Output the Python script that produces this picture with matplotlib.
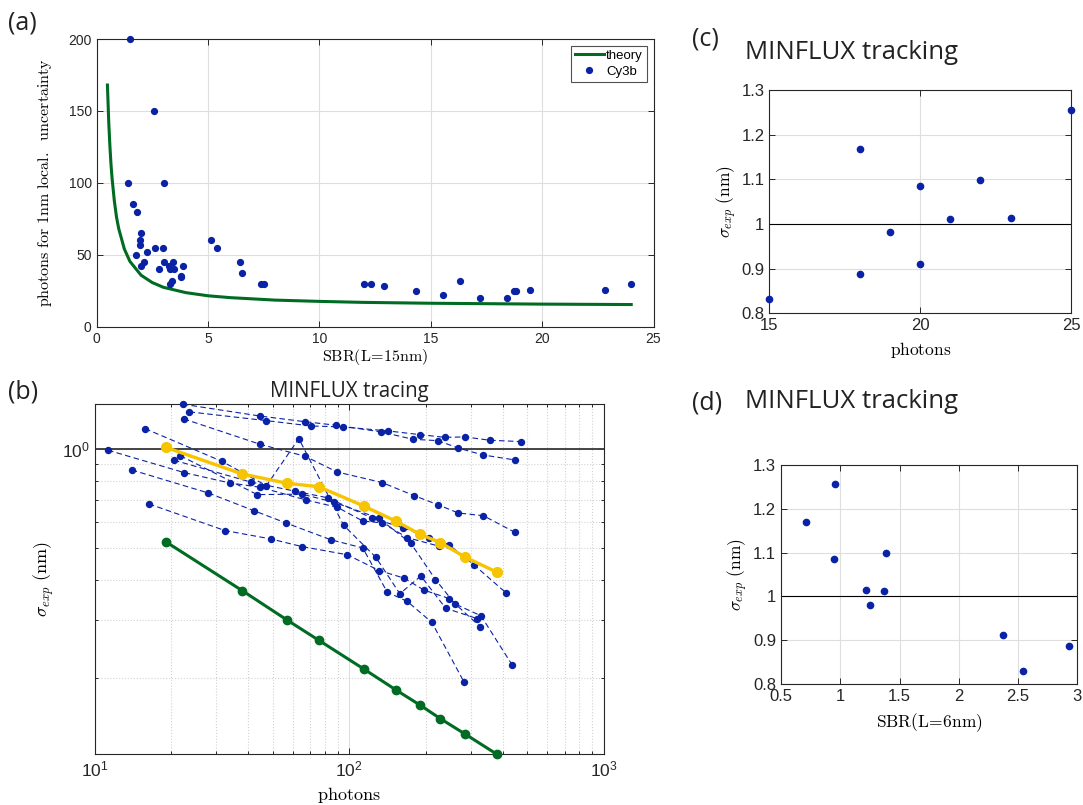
import matplotlib
matplotlib.use("Agg")
import matplotlib.pyplot as plt
from matplotlib.ticker import NullFormatter, FixedLocator

plt.rcParams['mathtext.fontset'] = 'cm'
plt.rcParams['font.family'] = ['Liberation Sans', 'DejaVu Sans']

# ---------------- data: panel (a) ----------------
theory_sbr = [0.49, 0.55, 0.6, 0.65, 0.7, 0.8, 0.9, 1.0, 1.25, 1.5, 2.0, 2.5, 3.0, 4.0,
              5.0, 6.0, 8.0, 10.0, 12.0, 15.0, 20.0, 24.0]
theory_photons = [168, 142, 126, 113, 103, 87.5, 76, 68, 54, 45.4, 35.8, 30.7, 27.4, 23.7,
                  21.5, 20.2, 18.5, 17.6, 16.9, 16.3, 15.7, 15.4]
cy3b_sbr = [1.52, 2.57, 1.40, 3.04, 1.66, 1.81, 2.00, 1.94, 1.97, 2.63, 2.99, 2.27, 1.79,
            2.12, 3.01, 3.43, 2.01, 2.82, 3.25, 3.31, 3.49, 3.88, 3.81, 3.81, 3.37, 3.28,
            5.16, 5.42, 6.43, 6.52, 7.40, 7.51, 12.0, 12.34, 12.91, 14.36, 15.57, 16.33,
            17.2, 18.44, 18.73, 18.85, 19.46, 22.84, 23.98]
cy3b_photons = [200, 150, 100, 100, 85, 80, 65, 60, 57, 55, 55, 52, 50,
                45, 45, 45, 42, 40, 42, 40, 40, 42, 35.5, 34.5, 32, 30,
                60, 55, 45, 37, 30, 30, 30, 30, 28, 24.8, 21.8, 32,
                19.7, 19.7, 24.8, 24.8, 25.7, 25.7, 30]

# ---------------- data: panel (b) ----------------
trace1_photons = [22.2, 44.6, 66.8, 88.9, 133.4, 178, 223, 267, 334, 446]
trace1_sigma = [1.369, 1.26, 1.211, 1.181, 1.127, 1.07, 1.06, 1.007, 0.959, 0.926]
trace2_photons = [23.6, 47.2, 70.7, 94.5, 141.6, 189, 237, 285, 356, 473]
trace2_sigma = [1.297, 1.22, 1.175, 1.167, 1.135, 1.106, 1.085, 1.088, 1.063, 1.053]
trace3_photons = [22.4, 44.7, 67.1, 89.5, 134.5, 179.5, 224, 268, 336, 447]
trace3_sigma = [1.235, 1.033, 0.950, 0.851, 0.790, 0.721, 0.675, 0.638, 0.626, 0.557]
trace4_photons = [15.8, 31.6, 47.3, 63.4, 95.1, 127, 158, 191, 239, 318]
trace4_sigma = [1.153, 0.917, 0.773, 1.075, 0.585, 0.468, 0.362, 0.410, 0.327, 0.304]
trace5_photons = [11.3, 22.5, 33.9, 44.8, 67.6, 89.8, 113, 135, 168.6, 226]
trace5_sigma = [0.991, 0.847, 0.788, 0.764, 0.699, 0.664, 0.603, 0.595, 0.537, 0.505]
trace6_photons = [14.0, 28.0, 42.1, 56.4, 84.5, 113, 141, 169, 211, 282]
trace6_sigma = [0.863, 0.734, 0.649, 0.595, 0.529, 0.499, 0.366, 0.343, 0.296, 0.195]
trace7_photons = [16.35, 32.5, 49.1, 65.2, 98.2, 131, 164, 197, 247, 327]
trace7_sigma = [0.680, 0.564, 0.532, 0.504, 0.476, 0.426, 0.404, 0.371, 0.350, 0.287]
trace8_photons = [21.7, 43.5, 65.3, 87.1, 130.5, 174.4, 218, 260, 329, 437]
trace8_sigma = [0.954, 0.726, 0.728, 0.688, 0.615, 0.516, 0.400, 0.337, 0.310, 0.219]
trace9_photons = [20.5, 41.0, 61.5, 82.2, 123, 163, 205, 246.5, 308, 413]
trace9_sigma = [0.924, 0.793, 0.743, 0.710, 0.615, 0.575, 0.537, 0.510, 0.444, 0.364]

mean_photons = [19, 38, 57, 76, 114, 152, 190, 228, 285, 380]
mean_sigma = [1.012, 0.839, 0.786, 0.767, 0.670, 0.603, 0.549, 0.518, 0.468, 0.421]
theory_b_photons = [19, 38, 57, 76, 114, 152, 190, 228, 285, 380]
theory_b_sigma = [0.522, 0.370, 0.301, 0.261, 0.2135, 0.1846, 0.1655, 0.1506, 0.1352, 0.1173]

# ---------------- data: panels (c), (d) ----------------
track_photons = [15, 18, 18, 19, 20, 20, 21, 22, 23, 25]
track_sigma_c = [0.831, 1.169, 0.887, 0.981, 1.084, 0.911, 1.012, 1.099, 1.013, 1.255]
track_sbr = [0.714, 0.953, 0.944, 1.214, 1.254, 1.372, 1.383, 2.370, 2.539, 2.927]
track_sigma_d = [1.171, 1.256, 1.085, 1.014, 0.981, 1.013, 1.100, 0.911, 0.830, 0.887]

BLUE = '#0a22a6'
GREEN = '#006b22'
YELLOW = '#f6c400'
SPINE = '#262626'
GRID = '#dedede'

W, H = 1083, 805
fig = plt.figure(figsize=(W / 100, H / 100), dpi=100)


def box(x0, x1, y0, y1):
    return [x0 / W, 1 - y1 / H, (x1 - x0) / W, (y1 - y0) / H]


def style(ax, fs):
    for s in ax.spines.values():
        s.set_color(SPINE)
        s.set_linewidth(0.8)
    ax.tick_params(which='both', direction='in', top=True, right=True,
                   colors=SPINE, labelsize=fs, length=4, width=0.7)
    ax.tick_params(which='minor', length=2.5)
    ax.set_axisbelow(True)


# ---------------- panel (a) ----------------
axa = fig.add_axes(box(96.5, 653.5, 39, 326.7))
style(axa, 10)
axa.grid(True, color=GRID, lw=0.8)
axa.plot(theory_sbr, theory_photons, color=GREEN, lw=2.2, label='theory')
axa.plot(cy3b_sbr, cy3b_photons, ls='none', marker='o', ms=4.2, color=BLUE,
         label='Cy3b', clip_on=False)
axa.set_xlim(0, 25)
axa.set_ylim(0, 200)
axa.set_xticks([0, 5, 10, 15, 20, 25])
axa.set_yticks([0, 50, 100, 150, 200])
axa.set_xlabel(r'$\mathrm{SBR(L\!=\!15nm)}$', fontsize=11.5, labelpad=1)
axa.set_ylabel(r'$\mathrm{photons\ for\ 1nm\ local.\ \ uncertainty}$', fontsize=11.5,
               labelpad=10)
leg = axa.legend(loc='upper right', fontsize=9.5, frameon=True, fancybox=False,
                 edgecolor='#262626', handlelength=2.2, handletextpad=0.2,
                 borderpad=0.3, labelspacing=0.3, borderaxespad=0.5)
leg.get_frame().set_linewidth(0.8)

# ---------------- panel (b) ----------------
axb = fig.add_axes(box(94.5, 604, 404.3, 754.3))
style(axb, 12.5)
axb.set_xscale('log')
axb.set_yscale('log')
axb.set_xlim(10, 1000)
axb.set_ylim(0.1173, 1.368)
axb.grid(True, which='major', color=GRID, lw=0.8, ls='-')
axb.grid(True, which='minor', color='#d2d2d2', lw=0.8, ls=':')
axb.xaxis.set_minor_formatter(NullFormatter())
axb.yaxis.set_minor_formatter(NullFormatter())
axb.yaxis.set_major_locator(FixedLocator([1.0]))
axb.yaxis.set_minor_locator(FixedLocator([0.2, 0.3, 0.4, 0.5, 0.6, 0.7, 0.8, 0.9]))
axb.set_yticklabels([r'$\mathdefault{10^{0}}$'])
axb.axhline(1.0, color='#444444', lw=1.4, zorder=2)
traces = [(trace1_photons, trace1_sigma), (trace2_photons, trace2_sigma),
          (trace3_photons, trace3_sigma), (trace4_photons, trace4_sigma),
          (trace5_photons, trace5_sigma), (trace6_photons, trace6_sigma),
          (trace7_photons, trace7_sigma), (trace8_photons, trace8_sigma),
          (trace9_photons, trace9_sigma)]
for px, sy in traces:
    axb.plot(px, sy, ls=(0, (5, 3)), lw=0.8, color=BLUE, marker='o', ms=4.3,
             zorder=3, clip_on=False)
axb.plot(mean_photons, mean_sigma, color=YELLOW, lw=2.4, marker='o', ms=7, zorder=4,
         clip_on=False)
axb.plot(theory_b_photons, theory_b_sigma, color=GREEN, lw=2.2, marker='o', ms=6,
         zorder=5, clip_on=False)
axb.set_xlabel(r'$\mathrm{photons}$', fontsize=13, labelpad=4)
axb.set_ylabel(r'$\sigma_{exp}\ (\mathrm{nm})$', fontsize=13, labelpad=4)

# ---------------- panel (c) ----------------
axc = fig.add_axes(box(769.3, 1071, 90, 313.3))
style(axc, 12)
axc.grid(True, color=GRID, lw=0.8)
axc.axhline(1.0, color='black', lw=0.8, zorder=2)
axc.plot(track_photons, track_sigma_c, ls='none', marker='o', ms=4.5, color=BLUE,
         clip_on=False, zorder=3)
axc.set_xlim(15, 25)
axc.set_ylim(0.8, 1.3)
axc.set_xticks([15, 20, 25])
axc.set_yticks([0.8, 0.9, 1.0, 1.1, 1.2, 1.3])
axc.set_yticklabels(['0.8', '0.9', '1', '1.1', '1.2', '1.3'])
axc.set_xlabel(r'$\mathrm{photons}$', fontsize=12.5, labelpad=5)
axc.set_ylabel(r'$\sigma_{exp}\ (\mathrm{nm})$', fontsize=12.5, labelpad=2)

# ---------------- panel (d) ----------------
axd = fig.add_axes(box(781, 1077.3, 465, 684))
style(axd, 12)
axd.grid(True, color=GRID, lw=0.8)
axd.axhline(1.0, color='black', lw=0.8, zorder=2)
axd.plot(track_sbr, track_sigma_d, ls='none', marker='o', ms=4.5, color=BLUE,
         clip_on=False, zorder=3)
axd.set_xlim(0.5, 3)
axd.set_ylim(0.8, 1.3)
axd.set_xticks([0.5, 1, 1.5, 2, 2.5, 3])
axd.set_xticklabels(['0.5', '1', '1.5', '2', '2.5', '3'])
axd.set_yticks([0.8, 0.9, 1.0, 1.1, 1.2, 1.3])
axd.set_yticklabels(['0.8', '0.9', '1', '1.1', '1.2', '1.3'])
axd.set_xlabel(r'$\mathrm{SBR(L\!=\!6nm)}$', fontsize=12.5, labelpad=5)
axd.set_ylabel(r'$\sigma_{exp}\ (\mathrm{nm})$', fontsize=12.5, labelpad=2)

# ---------------- titles and panel letters ----------------
tf = ['Open Sans', 'DejaVu Sans']
fig.text(349.3 / W, 1 - 397 / H, 'MINFLUX tracing', family=tf, fontsize=14.8,
         ha='center', va='baseline', color='#222222')
fig.text(958 / W, 1 - 59 / H, 'MINFLUX tracking', family=tf, fontsize=18.5,
         ha='right', va='baseline', color='#222222')
fig.text(958 / W, 1 - 408 / H, 'MINFLUX tracking', family=tf, fontsize=18.5,
         ha='right', va='baseline', color='#222222')
for lbl, x, y in [('(a)', 8, 30), ('(b)', 8, 398), ('(c)', 692, 45), ('(d)', 692, 410)]:
    fig.text(x / W, 1 - y / H, lbl, family=tf, fontsize=18, ha='left', va='baseline',
             color='#222222')

fig.savefig('out.png', dpi=100)
